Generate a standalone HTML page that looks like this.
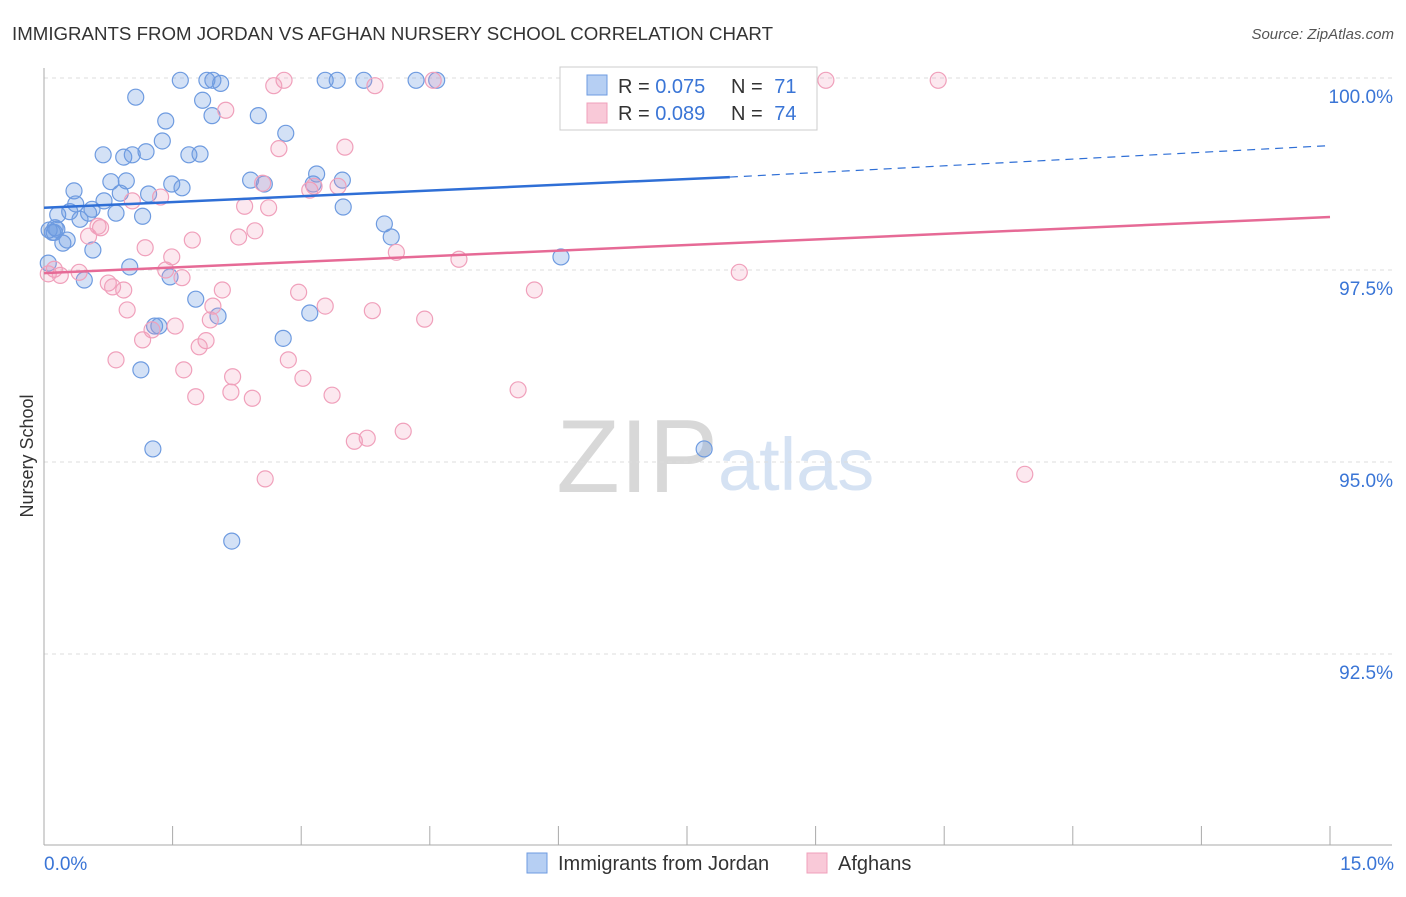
<!DOCTYPE html>
<html><head><meta charset="utf-8"><style>
body{margin:0;background:#fff;font-family:"Liberation Sans",sans-serif;}
svg text{font-family:"Liberation Sans",sans-serif;}
</style></head><body>
<svg id="chart" width="1406" height="892">
<text x="12" y="40" font-size="18" fill="#333" textLength="761" lengthAdjust="spacingAndGlyphs">IMMIGRANTS FROM JORDAN VS AFGHAN NURSERY SCHOOL CORRELATION CHART</text>
<text x="1394" y="39" font-size="15" fill="#555" font-style="italic" text-anchor="end">Source: ZipAtlas.com</text>
<text x="33" y="456" font-size="18" fill="#333" transform="rotate(-90 33 456)" text-anchor="middle">Nursery School</text>
<text x="718" y="492" font-size="104" fill="#d8d8d8" text-anchor="end" font-family="Liberation Serif">ZIP</text>
<text x="718" y="490" font-size="74" fill="#d5e2f3">atlas</text>
<g id="grid"></g><g id="pts"></g><g id="lines"></g>
<g>
<rect x="560" y="67" width="257" height="63" fill="#fff" stroke="#ccc"/>
<rect x="587" y="75" width="20" height="20" fill="#b6cff3" stroke="#6e9be0"/>
<rect x="587" y="103" width="20" height="20" fill="#f9c9d8" stroke="#f0a0bb"/>
<text x="618" y="93" font-size="20" fill="#333">R = <tspan fill="#3a75d6">0.075</tspan></text>
<text x="731" y="93" font-size="20" fill="#333">N = <tspan fill="#3a75d6" dx="6">71</tspan></text>
<text x="618" y="120" font-size="20" fill="#333">R = <tspan fill="#3a75d6">0.089</tspan></text>
<text x="731" y="120" font-size="20" fill="#333">N = <tspan fill="#3a75d6" dx="6">74</tspan></text>
</g>
<g>
<rect x="527" y="853" width="20" height="20" fill="#b6cff3" stroke="#6e9be0"/>
<text x="558" y="870" font-size="20" fill="#333">Immigrants from Jordan</text>
<rect x="807" y="853" width="20" height="20" fill="#f9c9d8" stroke="#f0a0bb"/>
<text x="838" y="870" font-size="20" fill="#333">Afghans</text>
</g>
</svg>
<script>
const yTicks=[100,97.5,95,92.5];
const yTickLabels=["100.0%","97.5%","95.0%","92.5%"];
const xTickLabels=["0.0%","15.0%"];
const jordanX=[1.59,1.90,1.97,2.06,3.28,3.42,3.73,4.34,4.58,1.07,1.85,1.42,1.96,2.50,2.82,1.38,0.69,0.93,1.03,1.19,1.69,1.82,3.18,3.48,2.41,2.57,3.14,0.78,0.96,0.35,0.89,1.22,1.49,1.61,0.37,0.56,0.70,0.84,1.15,3.49,0.16,0.30,0.52,0.42,0.06,0.12,0.15,0.27,0.57,3.97,4.05,6.03,0.05,1.00,0.47,1.47,1.77,2.03,3.10,2.79,1.29,1.34,1.13,1.27,7.70,2.19,0.10,0.13,0.22];
const jordanY=[99.97,99.97,99.97,99.93,99.97,99.97,99.97,99.97,99.97,99.75,99.71,99.44,99.51,99.51,99.28,99.18,99.00,98.97,99.00,99.04,99.00,99.01,98.75,98.67,98.67,98.62,98.62,98.65,98.66,98.53,98.50,98.49,98.62,98.57,98.36,98.29,98.40,98.24,98.20,98.32,98.22,98.26,98.24,98.16,98.02,97.99,98.03,97.89,97.76,98.10,97.93,97.67,97.59,97.54,97.37,97.41,97.12,96.90,96.94,96.61,96.77,96.77,96.20,95.17,95.17,93.97,97.99,98.05,97.85];
const afghanX=[2.80,4.54,9.12,10.43,2.68,3.86,2.12,2.74,3.51,2.55,3.10,3.15,3.43,1.03,1.36,2.34,2.62,0.66,0.63,2.46,2.27,0.52,1.18,1.73,1.49,4.11,4.84,8.11,0.12,0.05,0.19,0.41,0.75,1.42,1.61,0.93,2.08,2.97,5.72,0.97,1.97,3.28,3.83,4.44,1.53,1.26,1.94,1.15,1.89,1.81,0.84,2.85,1.63,2.20,3.02,5.53,1.77,2.18,2.43,3.36,3.62,3.77,4.19,2.58,11.44,0.80];
const afghanY=[99.97,99.97,99.97,99.97,99.90,99.90,99.58,99.08,99.10,98.63,98.54,98.59,98.59,98.40,98.45,98.33,98.31,98.05,98.07,98.01,97.93,97.94,97.79,97.89,97.67,97.73,97.64,97.47,97.51,97.45,97.43,97.47,97.33,97.50,97.40,97.24,97.24,97.21,97.24,96.98,97.03,97.03,96.97,96.86,96.77,96.72,96.85,96.59,96.58,96.50,96.33,96.33,96.20,96.11,96.09,95.94,95.85,95.91,95.83,95.87,95.27,95.31,95.40,94.78,94.84,97.28];
const jordanTrend=[98.31,98.71,99.12];
const afghanTrend=[97.46,98.19];
const NS="http://www.w3.org/2000/svg";
const X=v=>44+v/15*1286, Y=v=>78+(100-v)*76.8;
function mk(tag,attrs,parent){const e=document.createElementNS(NS,tag);for(const k in attrs)e.setAttribute(k,attrs[k]);parent.appendChild(e);return e;}
const grid=document.getElementById('grid');
yTicks.forEach((t,i)=>{
 const l=mk('line',{x1:44,x2:1392,y1:Y(t),y2:Y(t),stroke:'#ddd','stroke-dasharray':'4,4'},grid);
 
 
 const tx=mk('text',{x:1393,y:Y(t)+25,'font-size':19,fill:'#3a75d6','text-anchor':'end'},grid);
 tx.textContent=yTickLabels[i];
 
 
});
const ax=mk('line',{x1:44,x2:44,y1:68,y2:845,stroke:'#aaa'},grid);


const bx=mk('line',{x1:44,x2:1392,y1:845,y2:845,stroke:'#aaa'},grid);


for(let i=0;i<=10;i++){const t=mk('line',{x1:X(i*1.5),x2:X(i*1.5),y1:826,y2:845,stroke:'#aaa'},grid);
 
 }
[[0,'start',44],[15,'end',1394]].forEach((a,i)=>{const t=mk('text',{x:a[2],y:870,'font-size':19,fill:'#3a75d6','text-anchor':a[1]},grid);t.textContent=xTickLabels[i];
 
 });
const pts=document.getElementById('pts');
jordanX.forEach((x,i)=>{const c=mk('circle',{cx:X(x),cy:Y(jordanY[i]),r:8,fill:'rgba(110,155,224,0.3)',stroke:'#6e9be0','stroke-width':1.2},pts);
 
 });
afghanX.forEach((x,i)=>{const c=mk('circle',{cx:X(x),cy:Y(afghanY[i]),r:8,fill:'rgba(240,150,180,0.22)',stroke:'#f0a0bb','stroke-width':1.2},pts);
 
 });
const lines=document.getElementById('lines');
const j1=mk('line',{x1:X(0),y1:Y(jordanTrend[0]),x2:X(8),y2:Y(jordanTrend[1]),stroke:'#2f6fd6','stroke-width':2.5},lines);


const j2=mk('line',{x1:X(8),y1:Y(jordanTrend[1]),x2:X(15),y2:Y(jordanTrend[2]),stroke:'#2f6fd6','stroke-width':1.2,'stroke-dasharray':'8,6'},lines);


const p1=mk('line',{x1:X(0),y1:Y(afghanTrend[0]),x2:X(15),y2:Y(afghanTrend[1]),stroke:'#e66a96','stroke-width':2.5},lines);


</script>
</body></html>
